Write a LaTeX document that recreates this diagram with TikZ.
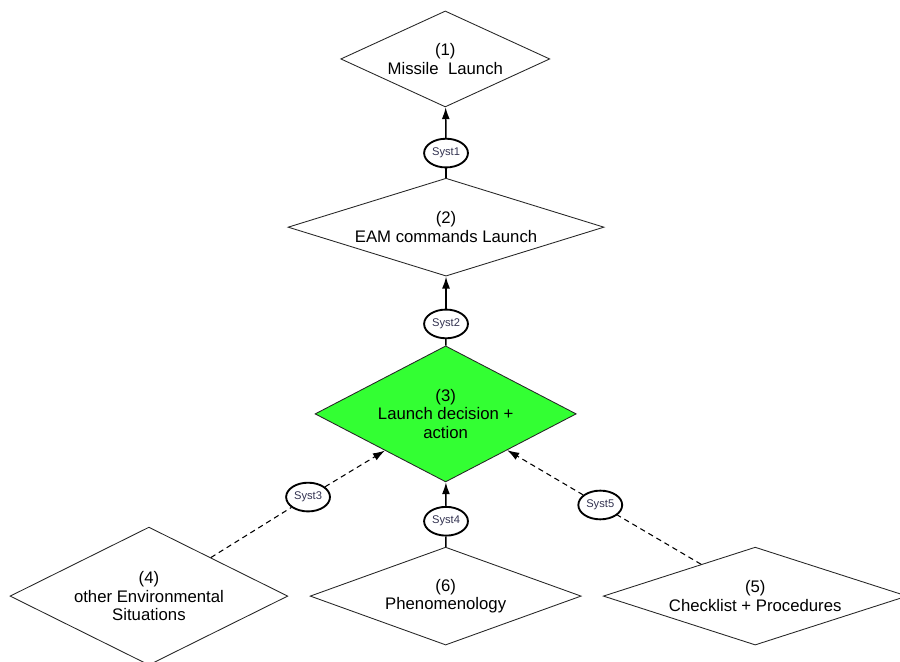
\documentclass[tikz,border=0pt]{standalone}
\usepackage{fontspec}
\setmainfont{Liberation Sans}
\usepackage{xcolor}
\usepackage{tikz}
\usetikzlibrary{shapes.geometric, arrows.meta, positioning}
\definecolor{decgreen}{RGB}{51,255,51}
\definecolor{systtext}{RGB}{50,50,80}
\tikzstyle{arrow} = [line width=1.1pt,->,>={Latex[length=9pt,width=6pt]}]
\tikzstyle{dasharrow} = [line width=0.8pt,dash pattern=on 4pt off 3pt,->,>={Latex[length=9pt,width=6pt]}]
\tikzstyle{link} = [line width=1.1pt]
\tikzstyle{dashlink} = [line width=0.8pt,dash pattern=on 4pt off 3pt]
\tikzstyle{level} = [diamond, draw=black!85, line width=0.65pt, fill=white, inner sep=0pt, align=center, font=\fontsize{12.6}{14}\selectfont]
\tikzstyle{syst} = [ellipse, draw, line width=1.4pt, fill=white, minimum width=1.16cm, minimum height=0.76cm, inner sep=0pt, text=systtext, font=\fontsize{8.4}{9}\selectfont]

\begin{document}
\begin{tikzpicture}
    \useasboundingbox (0,0) rectangle (23.81,17.49);

    % (1)
    \node[level, minimum width=5.53cm, minimum height=2.54cm, aspect=2.18] (d1) at (11.78, 15.93) {(1)\\Missile\ \ Launch};

    % (2)
    \node[level, minimum width=8.36cm, minimum height=2.59cm, aspect=3.2] (d2) at (11.80, 11.48) {(2)\\EAM commands Launch};

    % (3)
    \node[level, fill=decgreen, minimum width=6.91cm, minimum height=3.60cm, aspect=1.92] (d3) at (11.79, 6.54) {(3)\\Launch decision +\\action};

    % (4), (6), (5)
    \node[level, minimum width=7.35cm, minimum height=3.65cm, aspect=2.0] (d4) at (3.94, 1.72) {(4)\\other Environmental\\Situations};
    \node[level, minimum width=7.17cm, minimum height=2.59cm, aspect=2.74] (d6) at (11.79, 1.72) {(6)\\Phenomenology};
    \node[level, minimum width=8.04cm, minimum height=2.59cm, aspect=3.06] (d5) at (19.98, 1.72) {(5)\\Checklist + Procedures};

    % Syst
    \node[syst] (s1) at (11.80, 13.44) {Syst1};
    \node[syst] (s2) at (11.80, 8.92) {Syst2};
    \node[syst] (s3) at (8.15, 4.34) {Syst3};
    \node[syst] (s4) at (11.80, 3.70) {Syst4};
    \node[syst] (s5) at (15.88, 4.13) {Syst5};

    % Links
    \draw[link] (d2) -- (s1);
    \draw[arrow] (s1) -- (d1);
    \draw[link] (d3) -- (s2);
    \draw[arrow] (s2) -- (d2);
    \draw[link] (d6) -- (s4);
    \draw[arrow] (s4) -- (d3);
    \draw[dashlink] (d4) -- (s3);
    \draw[dasharrow] (s3) -- (d3);
    \draw[dashlink] (d5) -- (s5);
    \draw[dasharrow] (s5) -- (d3);
\end{tikzpicture}
\end{document}
